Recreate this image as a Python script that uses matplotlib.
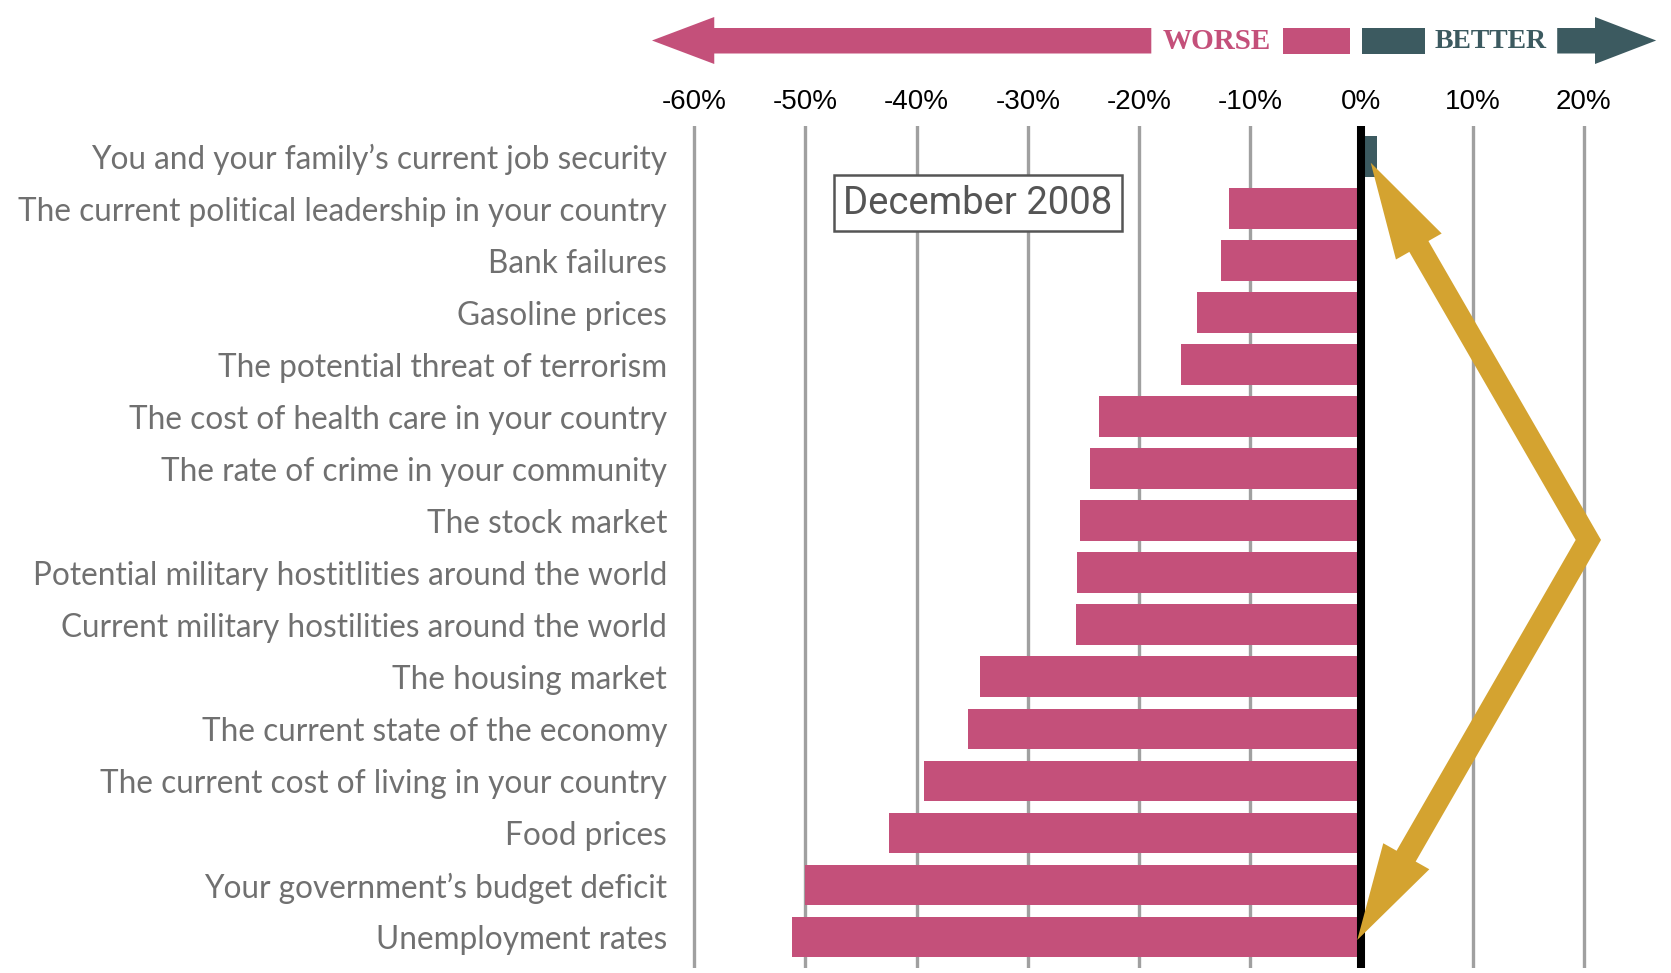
import matplotlib
matplotlib.use('Agg')
import matplotlib.pyplot as plt
from matplotlib.lines import Line2D

# survey items, top to bottom
labels = [
    'You and your family\u2019s current job security',
    'The current political leadership in your country',
    'Bank failures',
    'Gasoline prices',
    'The potential threat of terrorism',
    'The cost of health care in your country',
    'The rate of crime in your community',
    'The stock market',
    'Potential military hostitlities around the world',
    'Current military hostilities around the world',
    'The housing market',
    'The current state of the economy',
    'The current cost of living in your country',
    'Food prices',
    'Your government\u2019s budget deficit',
    'Unemployment rates',
]
values = [1.4, -11.9, -12.6, -14.8, -16.2, -23.6, -24.4, -25.3, -25.6, -25.7,
          -34.3, -35.4, -39.3, -42.5, -50.0, -51.2]
xticks = [-60, -50, -40, -30, -20, -10, 0, 10, 20]
xtick_labels = ['-60%', '-50%', '-40%', '-30%', '-20%', '-10%', '0%', '10%', '20%']

PINK = '#C4507A'
TEAL = '#3C5A60'
GOLD = '#D4A330'
GRID = '#A0A0A0'
LABEL = '#707070'

fig = plt.figure(figsize=(16.71, 9.73), dpi=100)
ax = fig.add_axes([672 / 1671, 1 - 967.6 / 973, 967.5 / 1671, (967.6 - 126) / 973])

ypos = list(range(len(labels)))
colors = [TEAL if v > 0 else PINK for v in values]
ax.barh(ypos, values, height=0.78, color=colors, zorder=2)

ax.set_xlim(-62, 25)
ax.set_ylim(15.59, -0.586)

for s in ax.spines.values():
    s.set_visible(False)

ax.set_xticks(xticks)
ax.set_xticklabels(xtick_labels, family=['Liberation Sans Narrow', 'Liberation Sans'],
                   fontsize=20, color='black')
ax.xaxis.tick_top()
ax.tick_params(axis='x', length=0, pad=8)
ax.grid(axis='x', color=GRID, linewidth=2.4, zorder=0)
ax.set_axisbelow(True)

ax.set_yticks(ypos)
ax.set_yticklabels(labels, family='Lato', fontsize=22.7, color=LABEL)
ax.tick_params(axis='y', length=0, pad=3.5)

ax.axvline(0, color='black', linewidth=5.8, zorder=3)

# date box
ax.text(-34.5, 0.9, 'December 2008', ha='center', va='center', fontsize=27.5,
        family='Roboto', color='#555555',
        bbox=dict(boxstyle='square,pad=0.25', facecolor='white', edgecolor='#555555',
                  linewidth=1.8), zorder=4)

# gold bent double arrow
top_tip, top_barbs = (0.83, 0.12), [(7.21, 1.48), (3.10, 1.98)]
bot_tip, bot_barbs = (-0.38, 15.06), [(1.96, 13.2), (6.10, 13.70)]
vertex = (20.4, 7.37)


def inner(tip, barbs, f=0.3):
    mx = (barbs[0][0] + barbs[1][0]) / 2
    my = (barbs[0][1] + barbs[1][1]) / 2
    return (mx + f * (tip[0] - mx), my + f * (tip[1] - my))


p1 = inner(top_tip, top_barbs)
p2 = inner(bot_tip, bot_barbs)
ax.add_line(Line2D([p1[0], vertex[0], p2[0]], [p1[1], vertex[1], p2[1]],
                   color=GOLD, linewidth=15.8, solid_joinstyle='miter',
                   solid_capstyle='butt', zorder=5, clip_on=False))
for tip, barbs in [(top_tip, top_barbs), (bot_tip, bot_barbs)]:
    xs = [tip[0], barbs[0][0], barbs[1][0]]
    ys = [tip[1], barbs[0][1], barbs[1][1]]
    ax.fill(xs, ys, color=GOLD, zorder=5, clip_on=False, linewidth=0)

# header: worse / better arrows
hx = fig.add_axes([672 / 1671, 1 - 80 / 973, 967.5 / 1671, 80 / 973])
hx.set_xlim(-62, 25)
hx.set_ylim(80, 0)
hx.axis('off')
body_top, body_bot, head_top, head_bot, mid = 28, 53.5, 17, 64, 40.5
hx.fill([-63.8, -58.2, -58.2, -18.9, -18.9, -58.2, -58.2],
        [mid, head_top, body_top, body_top, body_bot, body_bot, head_bot],
        color=PINK, linewidth=0, clip_on=False)
hx.fill([-7.06, -1.03, -1.03, -7.06], [body_top, body_top, body_bot, body_bot],
        color=PINK, linewidth=0)
hx.fill([0.04, 5.7, 5.7, 0.04], [body_top, body_top, body_bot, body_bot],
        color=TEAL, linewidth=0)
hx.fill([17.6, 21.0, 21.0, 26.5, 21.0, 21.0, 17.6],
        [body_top, body_top, head_top, mid, head_bot, body_bot, body_bot],
        color=TEAL, linewidth=0, clip_on=False)
hx.text(-13.0, 41.5, 'WORSE', ha='center', va='center', color=PINK,
        family='Liberation Serif', fontweight='bold', fontsize=21)
hx.text(11.6, 41.5, 'BETTER', ha='center', va='center', color=TEAL,
        family='Liberation Serif', fontweight='bold', fontsize=20)

fig.savefig('out.png', dpi=100)
